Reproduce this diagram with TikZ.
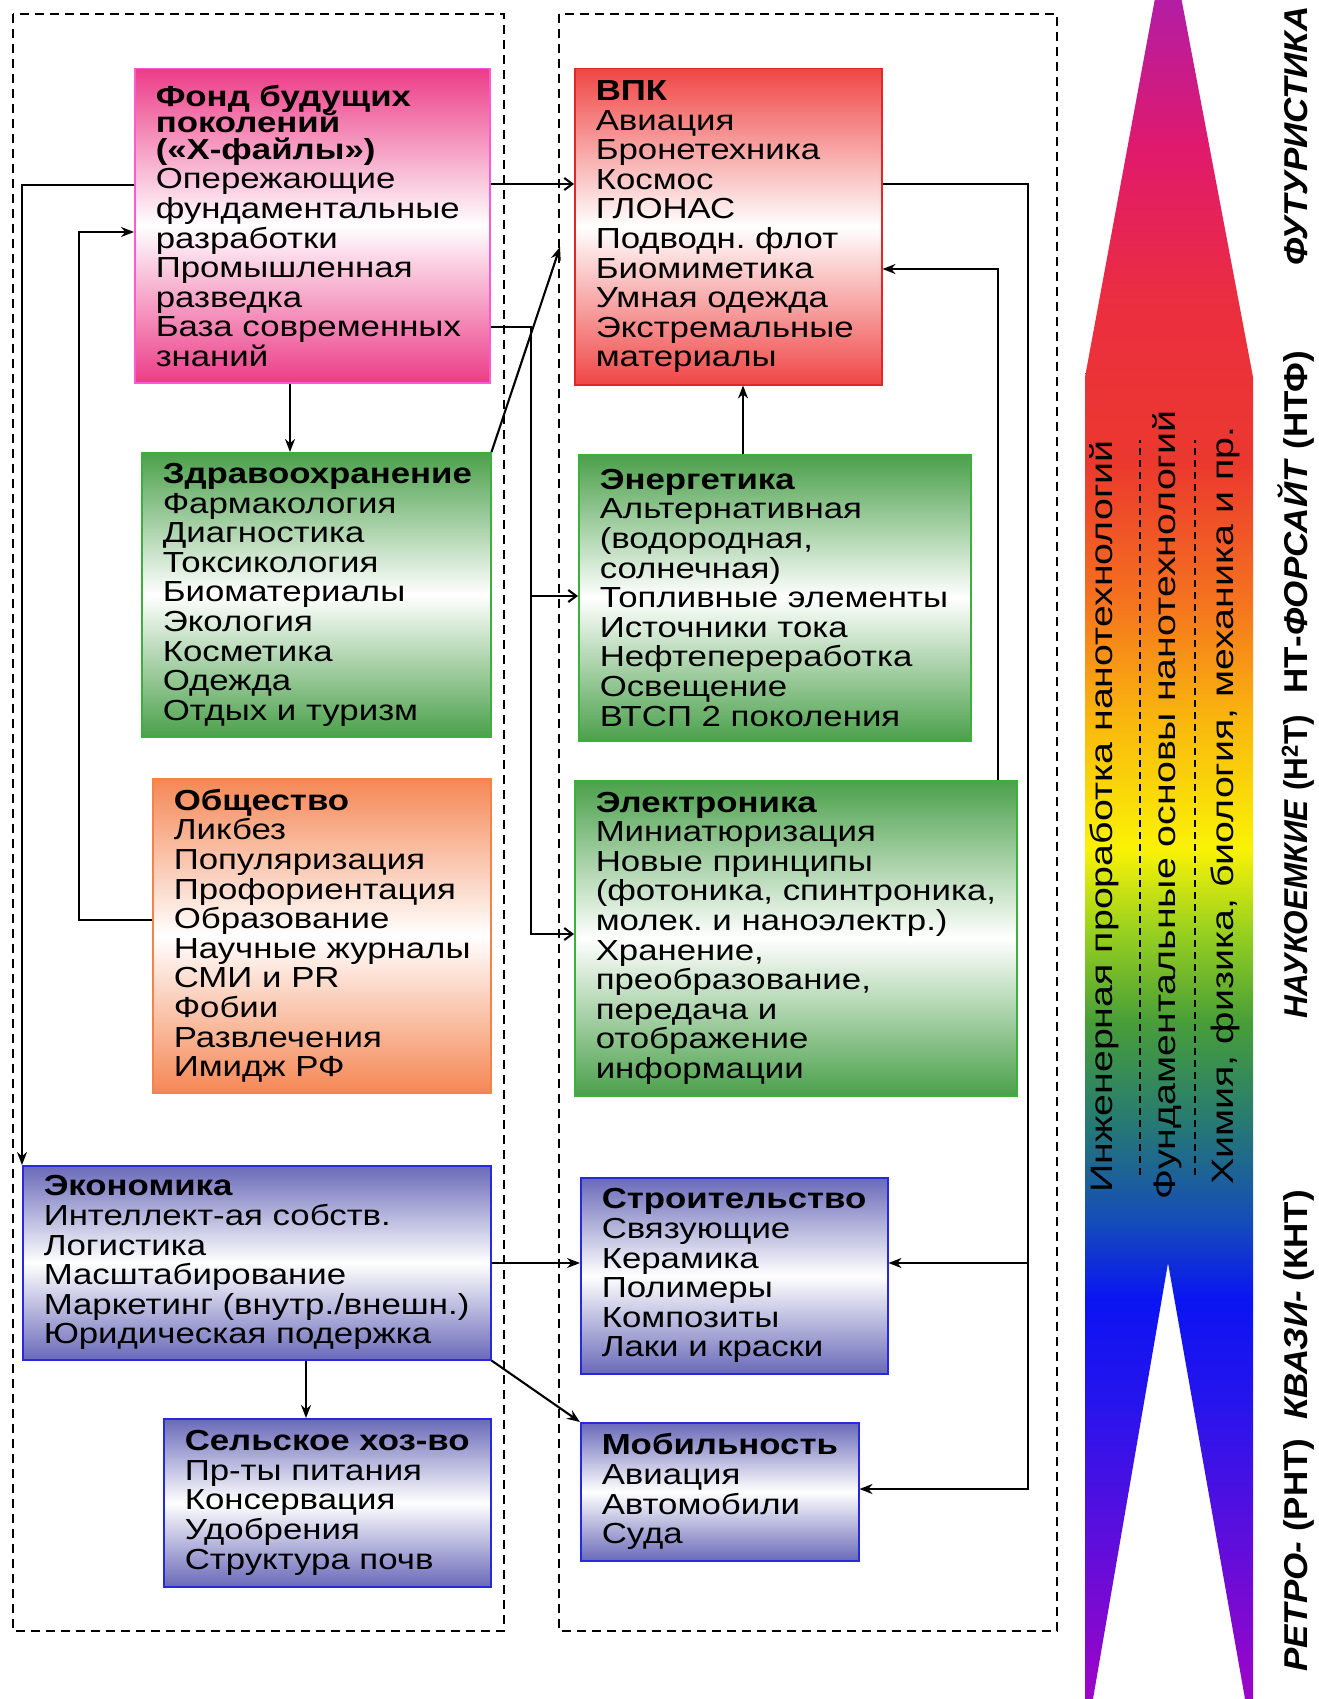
\documentclass[tikz,border=0pt]{standalone}
\usepackage{fontspec}
\setmainfont{Liberation Sans}[FakeStretch=1.2]
\newfontfamily\bandfont{Liberation Sans}[FakeStretch=1.27]
\newfontfamily\labelfont{Liberation Sans}[FakeStretch=1.06]
\frenchspacing
\usetikzlibrary{arrows.meta}
\tikzset{>={Stealth[length=13pt,width=10pt]}}

\definecolor{fondc}{RGB}{236,60,135}
\definecolor{fonde}{RGB}{250,90,210}
\definecolor{vpkc}{RGB}{240,70,70}
\definecolor{vpke}{RGB}{225,40,40}
\definecolor{greenc}{RGB}{75,160,75}
\definecolor{greene}{RGB}{60,175,60}
\definecolor{orangec}{RGB}{245,135,85}
\definecolor{orangee}{RGB}{245,130,70}
\definecolor{bluec}{RGB}{105,105,185}
\definecolor{bluee}{RGB}{40,40,220}

\definecolor{rb0}{rgb}{0.62,0.02,0.78}
\definecolor{rb1}{rgb}{0.40,0.05,0.85}
\definecolor{rb2}{rgb}{0.15,0.08,0.93}
\definecolor{rb3}{rgb}{0.04,0.08,0.95}
\definecolor{rb4}{rgb}{0.08,0.30,0.72}
\definecolor{rb5}{rgb}{0.15,0.48,0.45}
\definecolor{rb6}{rgb}{0.28,0.62,0.22}
\definecolor{rb7}{rgb}{0.60,0.82,0.12}
\definecolor{rb8}{rgb}{0.98,0.95,0.02}
\definecolor{rb9}{rgb}{0.98,0.72,0.05}
\definecolor{rb10}{rgb}{0.96,0.45,0.12}
\definecolor{rb11}{rgb}{0.92,0.22,0.18}
\definecolor{rb12}{rgb}{0.92,0.18,0.25}
\definecolor{rb13}{rgb}{0.88,0.10,0.42}
\definecolor{rb14}{rgb}{0.62,0.12,0.75}
\pgfdeclareverticalshading{rainbow}{100bp}{color(0bp)=(rb0); color(25bp)=(rb0);
  color(28.9bp)=(rb1); color(33.4bp)=(rb2); color(36.3bp)=(rb3); color(38.5bp)=(rb4);
  color(41.3bp)=(rb5); color(44.1bp)=(rb6); color(46.7bp)=(rb7); color(49bp)=(rb8);
  color(52.6bp)=(rb9); color(56bp)=(rb10); color(59.9bp)=(rb11); color(64.5bp)=(rb12);
  color(68.7bp)=(rb13); color(75bp)=(rb14); color(100bp)=(rb14)}

\tikzset{
  blk/.style={draw, line width=1.5pt, anchor=north west, inner sep=0pt, align=left,
    font=\fontsize{29}{29.6}\selectfont, execute at begin node={\leftskip=21pt}},
  pinkbox/.style={blk, draw=fonde, top color=fondc, bottom color=fondc, middle color=white},
  redbox/.style={blk, draw=vpke, top color=vpkc, bottom color=vpkc, middle color=white},
  greenbox/.style={blk, draw=greene, top color=greenc, bottom color=greenc, middle color=white},
  orangebox/.style={blk, draw=orangee, top color=orangec, bottom color=orangec, middle color=white},
  bluebox/.style={blk, draw=bluee, top color=bluec, bottom color=bluec, middle color=white},
  link/.style={line width=2.1pt},
  openarr/.style={link, -{Straight Barb[length=8pt,width=12pt]}},
  groupbox/.style={draw, line width=2pt, dash pattern=on 9pt off 6pt},
  sepline/.style={line width=1.5pt, dash pattern=on 7pt off 5pt},
  bandtext/.style={rotate=90, anchor=base west, inner sep=0pt, font=\bandfont\fontsize{31}{31}\selectfont},
  sidelabel/.style={rotate=90, anchor=base west, inner sep=0pt, font=\labelfont\fontsize{33}{33}\selectfont\bfseries}
}

\begin{document}
\begin{tikzpicture}[x=1pt, y=-1pt]
\useasboundingbox (0,0) rectangle (1319,1699);
\clip (0,0) rectangle (1319,1699);

\draw[groupbox] (13,14) rectangle (504,1631);
\draw[groupbox] (559,14) rectangle (1057,1631);

\node[pinkbox, text width=355, minimum height=314] (fond) at (134,68)
  {\textbf{Фонд будущих\\[-3pt]поколений\\[-3pt](«Х-файлы»)}\\Опережающие\\фундаментальные\\разработки\\Промышленная\\разведка\\База современных\\знаний};
\node[redbox, text width=307, minimum height=316] (vpk) at (574,68)
  {\textbf{ВПК}\\Авиация\\Бронетехника\\Космос\\ГЛОНАС\\Подводн. флот\\Биомиметика\\Умная одежда\\Экстремальные\\материалы};
\node[greenbox, text width=349, minimum height=284] (zdrav) at (141,452)
  {\textbf{Здравоохранение}\\Фармакология\\Диагностика\\Токсикология\\Биоматериалы\\Экология\\Косметика\\Одежда\\Отдых и туризм};
\node[greenbox, text width=392, minimum height=286] (energ) at (578,454)
  {\textbf{Энергетика}\\Альтернативная\\(водородная,\\солнечная)\\Топливные элементы\\Источники тока\\Нефтепереработка\\Освещение\\ВТСП 2 поколения};
\node[orangebox, text width=338, minimum height=314] (obsh) at (152,778)
  {\textbf{Общество}\\Ликбез\\Популяризация\\Профориентация\\Образование\\Научные журналы\\СМИ и PR\\Фобии\\Развлечения\\Имидж РФ};
\node[greenbox, text width=442, minimum height=315] (elec) at (574,780)
  {\textbf{Электроника}\\Миниатюризация\\Новые принципы\\(фотоника, спинтроника,\\молек. и наноэлектр.)\\Хранение,\\преобразование,\\передача и\\отображение\\информации};
\node[bluebox, text width=468, minimum height=194] (ekon) at (22,1165)
  {\textbf{Экономика}\\Интеллект-ая собств.\\Логистика\\Масштабирование\\Маркетинг (внутр./внешн.)\\Юридическая подержка};
\node[bluebox, text width=327, minimum height=168] (selh) at (163,1418)
  {\textbf{Сельское хоз-во}\\Пр-ты питания\\Консервация\\Удобрения\\Структура почв};
\node[bluebox, text width=307, minimum height=196] (stroi) at (580,1177)
  {\textbf{Строительство}\\Связующие\\Керамика\\Полимеры\\Композиты\\Лаки и краски};
\node[bluebox, text width=278, minimum height=138] (mob) at (580,1422)
  {\textbf{Мобильность}\\Авиация\\Автомобили\\Суда};

\coordinate (vpkin) at (560,247);
\coordinate (leftjn) at (531,596);
\coordinate (rightjn) at (1028,1263);
\draw[->, link] (fond.west |- 0,185) -| (ekon.north west);
\draw[->, link] (obsh.west |- 0,920) -- ++(-73,0) |- (fond.west |- 0,232);
\draw[openarr] (fond.east |- 0,184) -- (vpk.west |- 0,184);
\draw[openarr] (fond.east |- 0,327) -| (leftjn) |- (elec.west |- 0,934);
\draw[openarr] (leftjn) -- (energ.west |- leftjn);
\draw[->, link] (zdrav.north east) -- (vpkin);
\draw[->, link] (fond.south -| 290,0) -- (zdrav.north -| 290,0);
\draw[->, link] (energ.north -| 743,0) -- (vpk.south -| 743,0);
\draw[->, link] (vpk.east |- 0,184) -| (rightjn) |- (mob.east |- 0,1489);
\draw[->, link] (rightjn) -- (stroi.east |- rightjn);
\draw[->, link] (elec.north -| 998,0) |- (vpk.east |- 0,269);
\draw[->, link] (ekon.east |- rightjn) -- (stroi.west |- rightjn);
\draw[->, link] (ekon.south -| 306,0) -- (selh.north -| 306,0);
\draw[->, link] (ekon.south east) -- (mob.north west);

\shade[shading=rainbow] (1168,-72) -- (1253,377) -- (1253,1699) -- (1245,1699) -- (1168,1263)
  -- (1093,1699) -- (1085,1699) -- (1085,377) -- cycle;
\draw[sepline] (1140,1175) -- (1140,440);
\draw[sepline] (1195,1175) -- (1195,440);
\node[bandtext] (eng) at (1112,1193) {Инженерная проработка нанотехнологий};
\node[bandtext] (fund) at (1175,1200) {Фундаментальные основы нанотехнологий};
\node[bandtext] (chem) at (1233,1185) {Химия, физика, биология, механика и пр.};

\node[sidelabel] (futur) at (1307,266) {\textit{ФУТУРИСТИКА}};
\node[sidelabel] (ntf) at (1307,694) {НТ-\textit{ФОРСАЙТ} (НТФ)};
\node[sidelabel] (h2t) at (1307,1019) {\scalebox{0.9}[1]{\textit{НАУКОЕМКИЕ} (Н\textsuperscript{2}Т)}};
\node[sidelabel] (knt) at (1307,1420) {\textit{КВАЗИ-} (КНТ)};
\node[sidelabel] (rnt) at (1307,1672) {\textit{РЕТРО-} (РНТ)};
\end{tikzpicture}
\end{document}
